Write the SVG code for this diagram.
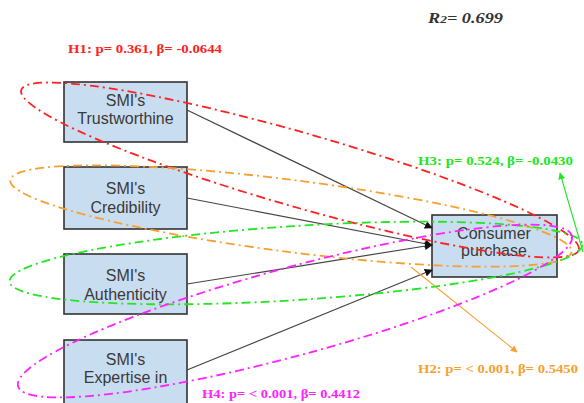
<svg xmlns="http://www.w3.org/2000/svg" width="584" height="403" viewBox="0 0 584 403">
<style>
.box{fill:#c9ddf0;stroke:#333;stroke-width:1.6}
.bt{font-family:"Liberation Sans",Arial,sans-serif;font-size:16px;fill:#3a3a3a;text-anchor:middle}
.lbl{font-family:"Liberation Serif","Times New Roman",serif;font-weight:bold;font-size:13px}
.conn{stroke:#444;stroke-width:1.2;fill:none}
.ell{fill:none;stroke-width:1.8;stroke-dasharray:9 4 2 4}
</style>
<defs>
<marker id="ah" viewBox="0 0 10 10" refX="9" refY="5" markerWidth="8" markerHeight="8" markerUnits="userSpaceOnUse" orient="auto">
<path d="M0,0 L10,5 L0,10 z" fill="#111"/>
</marker>
<marker id="ahg" viewBox="0 0 10 10" refX="9" refY="5" markerWidth="7" markerHeight="7" markerUnits="userSpaceOnUse" orient="auto">
<path d="M0,0 L10,5 L0,10 z" fill="#22e622"/>
</marker>
<marker id="aho" viewBox="0 0 10 10" refX="9" refY="5" markerWidth="7" markerHeight="7" markerUnits="userSpaceOnUse" orient="auto">
<path d="M0,0 L10,5 L0,10 z" fill="#f7a032"/>
</marker>
</defs>
<rect width="584" height="403" fill="#fff"/>
<g id="trust">
<rect class="box" x="64" y="82" width="123" height="60"/>
<text class="bt" x="125.5" y="106">SMI's</text>
<text class="bt" x="125.5" y="124">Trustworthine</text>
</g>
<g id="cred">
<rect class="box" x="64" y="167" width="123" height="62"/>
<text class="bt" x="125.5" y="194">SMI's</text>
<text class="bt" x="125.5" y="213">Credibility</text>
</g>
<g id="auth">
<rect class="box" x="64" y="254" width="123" height="60"/>
<text class="bt" x="125.5" y="281">SMI's</text>
<text class="bt" x="125.5" y="300">Authenticity</text>
</g>
<g id="expert">
<rect class="box" x="64" y="340" width="123" height="64"/>
<text class="bt" x="125.5" y="365">SMI's</text>
<text class="bt" x="125.5" y="383">Expertise in</text>
</g>
<g id="consumer">
<rect class="box" x="432" y="215" width="125" height="62"/>
<text class="bt" x="494" y="239" font-size="15">Consumer</text>
<text class="bt" x="494" y="256" font-size="15">purchase</text>
</g>
<g id="connectors">
<line class="conn" x1="187" y1="110" x2="432" y2="228" marker-end="url(#ah)"/>
<line class="conn" x1="187" y1="198" x2="432" y2="245" marker-end="url(#ah)"/>
<line class="conn" x1="187" y1="284" x2="432" y2="245" marker-end="url(#ah)"/>
<line class="conn" x1="187" y1="370" x2="432" y2="270" marker-end="url(#ah)"/>
<line x1="583" y1="252" x2="560" y2="173" stroke="#22e622" stroke-width="1.1" marker-end="url(#ahg)"/>
<line x1="411" y1="267" x2="517" y2="352" stroke="#f7a032" stroke-width="1.1" marker-end="url(#aho)"/>
</g>
<g id="ellipses">
<ellipse class="ell" stroke="#ff2020" cx="300" cy="170" rx="290" ry="37" transform="rotate(16 300 170)"/>
<ellipse class="ell" stroke="#f7a032" cx="291" cy="216" rx="283" ry="36" transform="rotate(7.3 291 216)"/>
<ellipse class="ell" stroke="#22e622" cx="296" cy="263" rx="287" ry="37" transform="rotate(-3.7 296 263)"/>
<ellipse class="ell" stroke="#ff22ff" cx="295" cy="311" rx="287" ry="44" transform="rotate(-15.2 295 311)"/>
</g>
<g id="labels">
<text class="lbl" x="68" y="53" fill="#ff2020" textLength="154" lengthAdjust="spacingAndGlyphs">H1: p= 0.361, β= -0.0644</text>
<text x="428" y="23" font-family="'Liberation Serif','Times New Roman',serif" font-weight="bold" font-style="italic" font-size="15" fill="#333" textLength="75" lengthAdjust="spacingAndGlyphs">R<tspan font-size="11">2</tspan>= 0.699</text>
<text class="lbl" x="418" y="165" fill="#22e622" textLength="155" lengthAdjust="spacingAndGlyphs">H3: p= 0.524, β= -0.0430</text>
<text class="lbl" x="418" y="373" fill="#f7a032" textLength="160" lengthAdjust="spacingAndGlyphs">H2: p= &lt; 0.001, β= 0.5450</text>
<text class="lbl" x="202" y="398" fill="#ff22ff" textLength="158" lengthAdjust="spacingAndGlyphs">H4: p= &lt; 0.001, β= 0.4412</text>
</g>
</svg>
